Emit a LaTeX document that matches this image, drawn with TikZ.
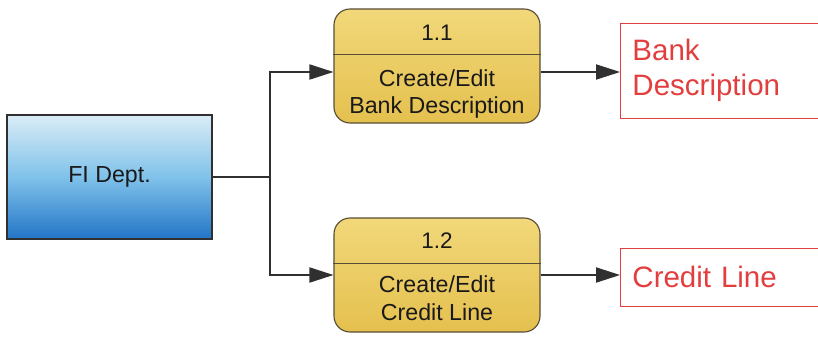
\documentclass[tikz,border=0pt]{standalone}
\usepackage{fontspec}
\setmainfont{Liberation Sans}
\usetikzlibrary{positioning, arrows.meta}

\definecolor{deptTop}{RGB}{218,236,246}
\definecolor{deptMid}{RGB}{128,194,234}
\definecolor{deptBot}{RGB}{34,116,198}
\definecolor{procTop}{RGB}{242,216,122}
\definecolor{procBot}{RGB}{228,192,78}
\definecolor{procLine}{RGB}{88,78,56}
\definecolor{storeRed}{RGB}{226,62,62}
\definecolor{flowGray}{RGB}{48,48,48}

\begin{document}
\begin{tikzpicture}[
    dept/.style = {draw=flowGray, line width=0.8pt, top color=deptTop, bottom color=deptBot,
                   middle color=deptMid, minimum width=5.125cm, minimum height=3.1cm,
                   font=\fontsize{16.5}{19}\selectfont, text=black!90},
    proc/.style = {draw=procLine, line width=0.8pt, rounded corners=0.4cm, top color=procTop,
                   bottom color=procBot, minimum width=5.15cm, minimum height=2.85cm},
    num/.style  = {font=\fontsize{16}{19}\selectfont, text=black!90},
    ptext/.style = {align=center, font=\fontsize{16.5}{19.5}\selectfont, text=black!90},
    store/.style = {draw=storeRed, line width=0.6pt, anchor=west, text width=5cm, inner xsep=0.3cm,
                    align=left, text=storeRed, font=\fontsize{21}{25}\selectfont},
    flow/.style = {draw=flowGray, line width=0.8pt, -{Triangle[length=0.6cm, width=0.38cm]}}
  ]
    \clip (0,0) rectangle (20.45,8.425);
    \useasboundingbox (0,0) rectangle (20.45,8.425);

    % external entity
    \node[dept] (fi) at (2.7375,4.0) {FI Dept.};

    % processes
    \node[proc] (p1) at (10.925,6.775) {};
    \node[num] (p1num) at (10.925,7.6) {1.1};
    \node[ptext] (p1txt) at (10.925,6.08) {Create/Edit\\Bank Description};
    \draw[procLine, line width=0.8pt] ([yshift=-1.15cm]p1.north west) -- ([yshift=-1.15cm]p1.north east);

    \node[proc] (p2) at (10.925,1.55) {};
    \node[num] (p2num) at (10.925,2.40) {1.2};
    \node[ptext] (p2txt) at (10.925,0.975) {Create/Edit\\Credit Line};
    \draw[procLine, line width=0.8pt] ([yshift=-1.15cm]p2.north west) -- ([yshift=-1.15cm]p2.north east);

    % data stores
    \node[store, minimum height=2.375cm] (d1) at (15.5,6.6625) {Bank\\Description};
    \node[store, minimum height=1.45cm] (d2) at (15.5,1.5) {Credit Line};

    % flows
    \coordinate (split) at (6.75,4.0);
    \draw[flowGray, line width=0.8pt] (fi.east) -- (split);
    \draw[flow] (split) |- ([yshift=-0.15cm]p1.west);
    \draw[flow] (split) |- (p2.west);
    \draw[flow] ([yshift=-0.15cm]p1.east) -- ([yshift=-0.15cm]p1.east -| d1.west);
    \draw[flow] (p2.east) -- (p2.east -| d2.west);
\end{tikzpicture}
\end{document}
